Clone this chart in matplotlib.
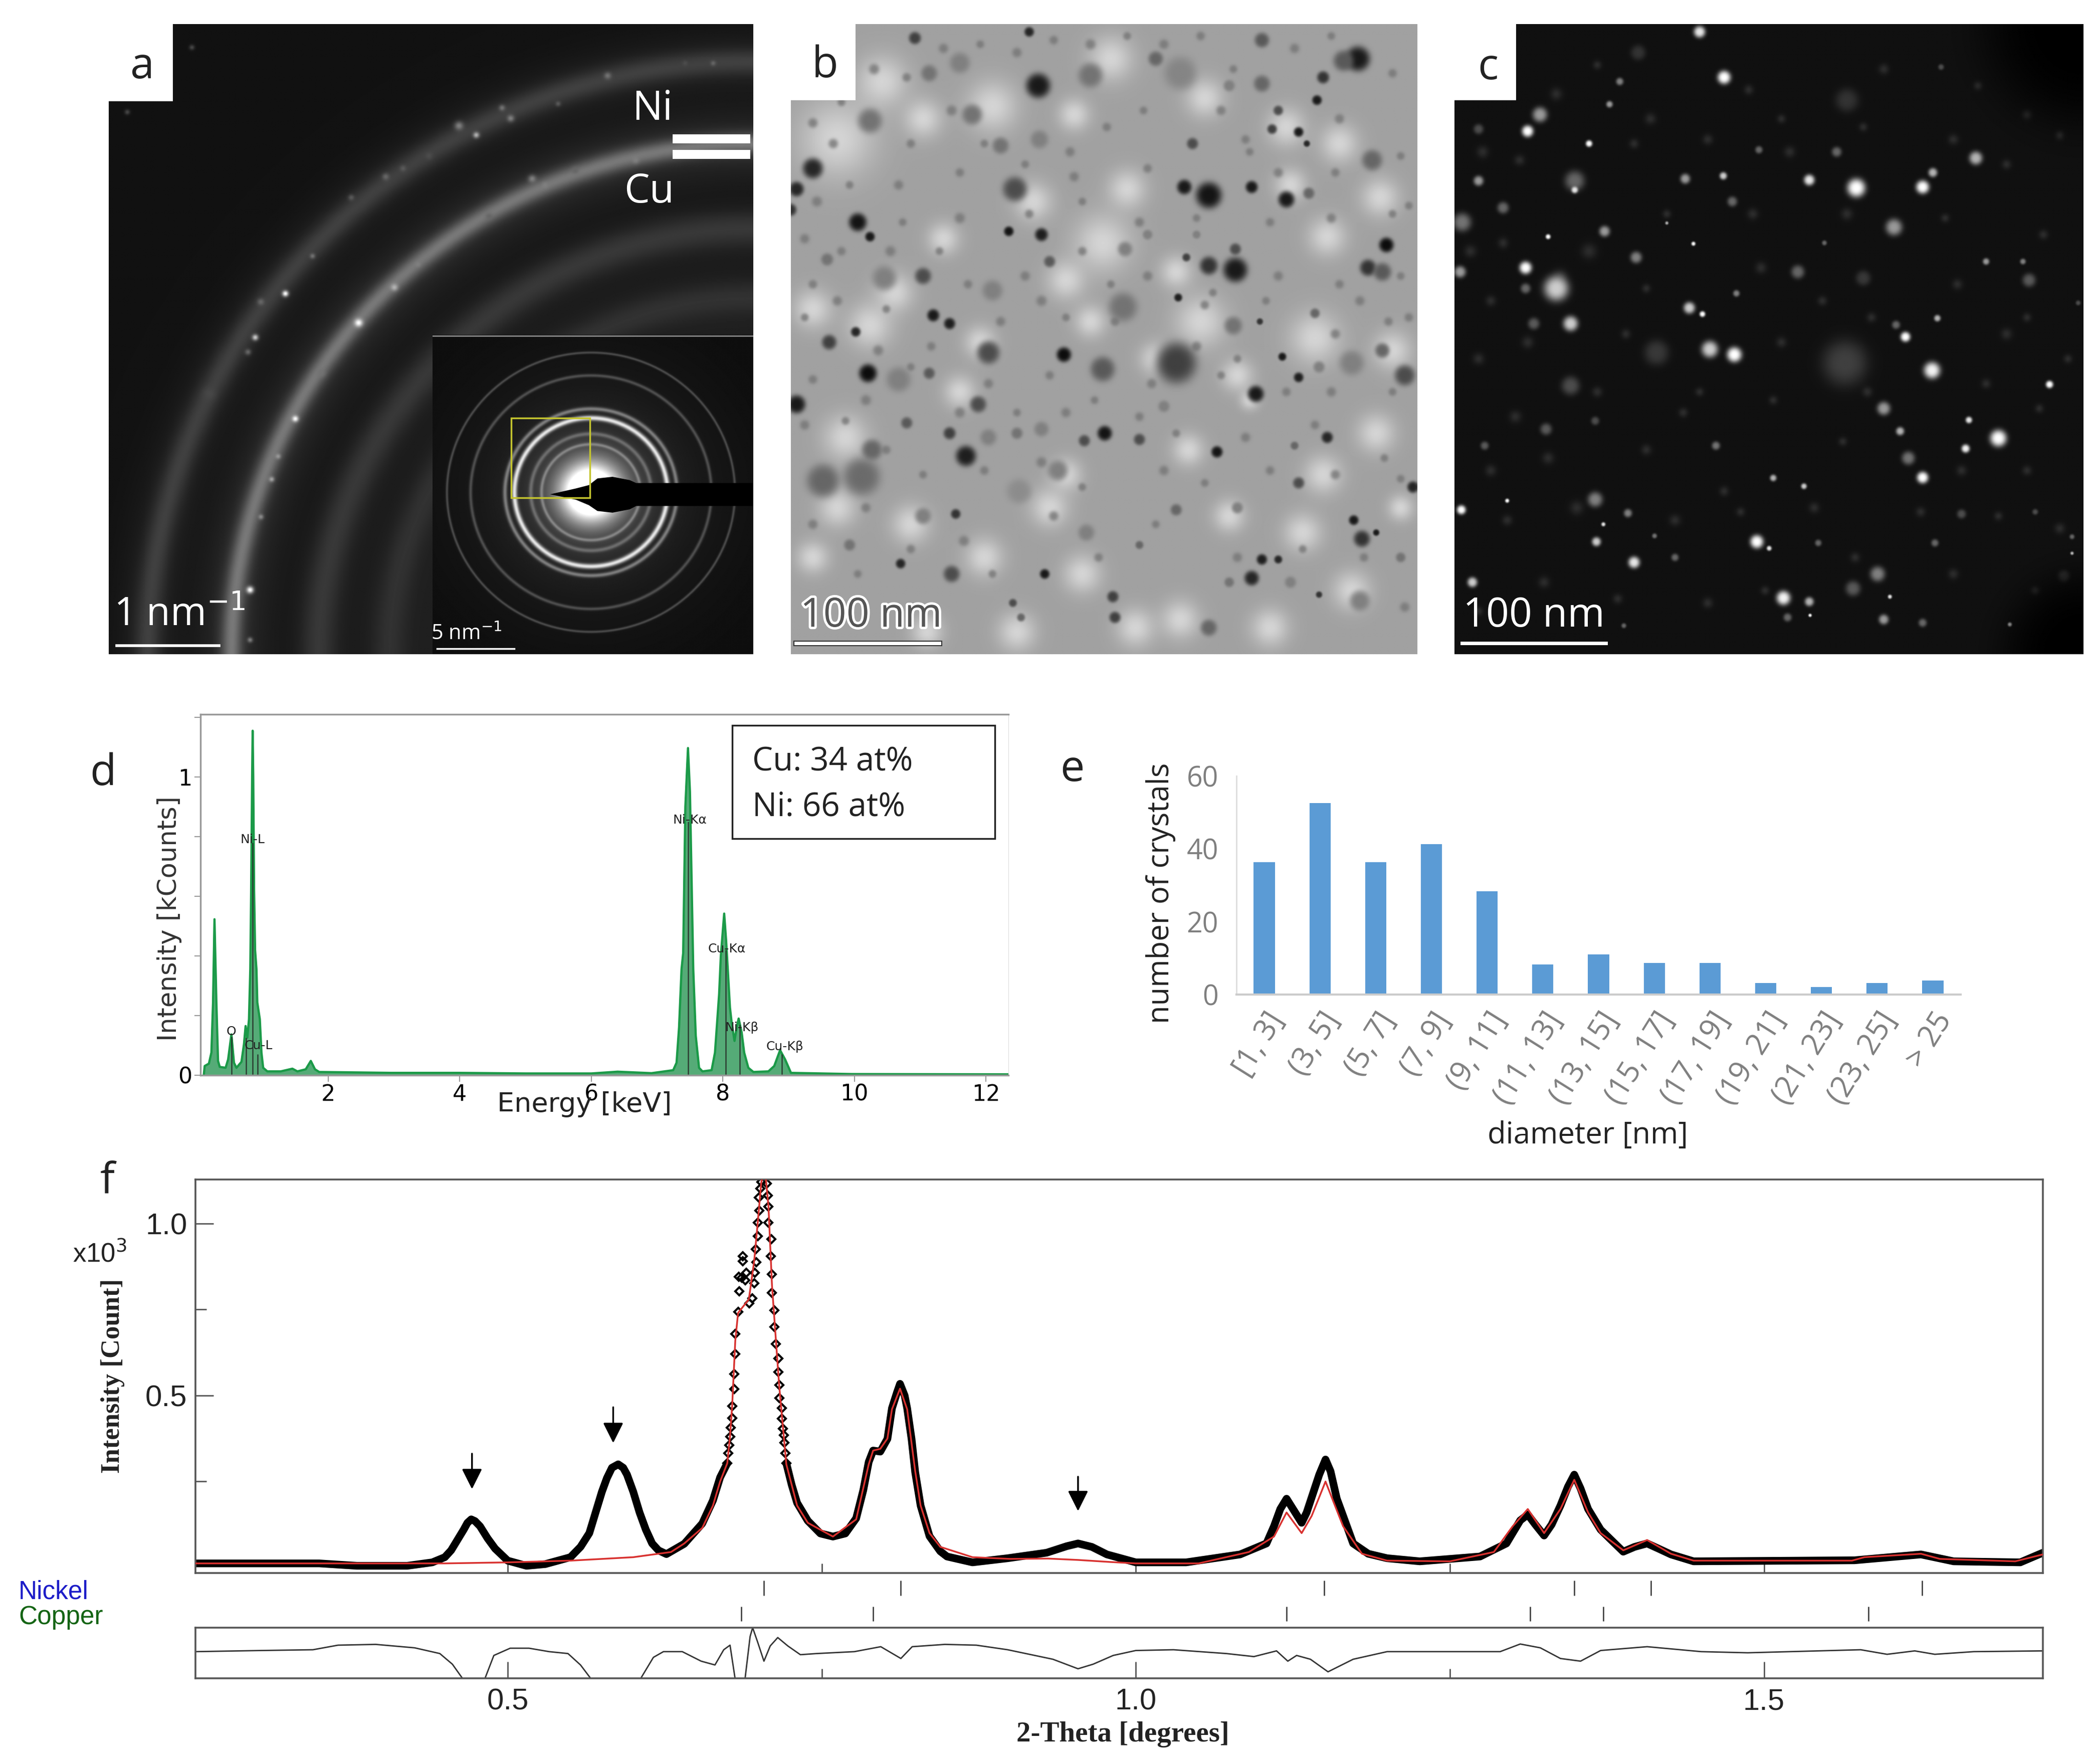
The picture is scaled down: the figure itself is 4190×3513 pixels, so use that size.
import numpy as np
import matplotlib
matplotlib.use('Agg')
import matplotlib.pyplot as plt
import matplotlib.patheffects as pe
from matplotlib.patches import Polygon, Rectangle

W, H = 4190, 3513

# ---- panel a: rings (radius, width in panel fractions, brightness), specks
ring_r = [0.94, 0.94, 0.81, 0.81, 0.675, 0.565]
ring_width = [0.020, 0.05, 0.016, 0.05, 0.028, 0.026]
ring_peak = [0.13, 0.05, 0.30, 0.09, 0.12, 0.08]
a_speck_x = [427, 357, 597, 450, 345, 870, 830, 950, 930, 1175, 1240, 1030, 1000, 680, 510, 410, 395, 370,
             490, 660, 700, 250, 1420, 1355, 735, 370, 340, 345, 210, 60, 580, 760, 1100, 900, 1060]
a_speck_y = [670, 775, 740, 970, 1380, 290, 268, 250, 225, 148, 350, 410, 395, 655, 860, 1060, 1115, 1205,
             580, 390, 370, 910, 118, 118, 600, 690, 810, 1500, 80, 235, 440, 340, 375, 485, 215]
a_speck_s = [7, 7, 9, 7, 8, 7, 10, 8, 7, 8, 8, 7, 9, 8, 10, 6, 6, 6, 6, 8, 7, 14, 6, 6, 6, 8, 7, 6, 6, 6, 7, 8, 8, 8, 6]
a_speck_g = [1, .8, 1, 1, 1, .7, .5, .5, .45, .45, .5, .5, .5, .7, .45, .6, .65, .55, .45, .4, .35, .28, .4, .3, .5, .4, .4, .5, .28, .28, .35, .3, .4, .4, .35]
inset_r = [335, 280, 200, 178, 140, 115]
inset_w = [3, 4, 5, 6, 5, 4]
inset_peak = [0.22, 0.22, 0.36, 0.75, 0.22, 0.24]
stop_x = [1040, 1100, 1130, 1150, 1185, 1225, 1240, 1512, 1512, 1240, 1225, 1185, 1150, 1130, 1100]
stop_y = [1150, 1136, 1128, 1112, 1108, 1116, 1123, 1123, 1178, 1178, 1186, 1194, 1190, 1176, 1163]

# ---- panel b: dark grains and light patches (x, y, radius in crop pixels, grey)
b_dark_x = [612, 1395, 1360, 590, 310, 1160, 900, 1160, 1310, 1295, 1200, 1250, 1185, 1270, 1430, 990, 520, 615, 450, 200,
            60, 20, 5, 555, 970, 1030, 1135, 1220, 1275, 170, 200, 540, 620, 1465, 1095, 1030, 1095, 975, 825, 1420,
            1455, 330, 235, 95, 640, 500, 355, 395, 820, 955, 1090, 100, 165, 490, 675, 950, 770, 195, 1210, 1250,
            1145, 1290, 1155, 1455, 1510, 20, 465, 290, 775, 725, 860, 435, 395, 205, 180, 85, 1320, 1050, 1530, 1250,
            410, 950, 1385, 1405, 1440, 275, 400, 628, 1160, 1200, 1135, 795, 800, 1400, 550, 570, 1030, 1300, 1080, 860,
            730, 1240, 660, 565, 330, 150, 1230, 1500, 1100, 920, 620, 560, 490, 345, 270, 1380, 1300, 1080, 960, 740,
            420, 345, 880, 1000]
b_dark_y = [160, 95, 100, 30, 45, 50, 95, 155, 140, 195, 220, 272, 265, 300, 340, 300, 305, 290, 230, 245,
            360, 410, 460, 410, 405, 425, 405, 435, 420, 490, 525, 512, 520, 545, 605, 595, 555, 575, 555, 600,
            610, 620, 625, 580, 585, 655, 715, 735, 695, 672, 740, 780, 755, 805, 810, 830, 845, 855, 815, 865,
            905, 710, 730, 800, 860, 930, 930, 975, 1000, 1018, 1015, 1055, 1000, 1040, 1105, 1115, 1010, 1045, 1130, 1120,
            1195, 1185, 1210, 1255, 1240, 1315, 1340, 1340, 1305, 1305, 1350, 1395, 1445, 1405, 1410, 1445, 1470, 1390, 1360, 1270,
            1240, 1030, 1090, 1140, 1200, 1270, 1360, 1300, 1180, 935, 990, 1000, 1010, 855, 870, 830, 840, 160, 130, 135,
            105, 130, 520, 520]
b_dark_r = [30, 30, 25, 12, 15, 18, 18, 20, 15, 12, 12, 12, 12, 8, 25, 14, 20, 22, 25, 30,
            25, 18, 15, 30, 18, 32, 15, 20, 14, 22, 12, 12, 16, 18, 30, 22, 14, 10, 18, 20,
            22, 20, 30, 15, 14, 25, 15, 14, 35, 10, 22, 18, 12, 28, 18, 50, 30, 22, 10, 12,
            20, 12, 8, 18, 25, 22, 20, 14, 18, 14, 14, 25, 15, 25, 45, 40, 14, 14, 14, 14,
            12, 14, 12, 20, 8, 12, 20, 12, 13, 10, 18, 14, 14, 25, 10, 10, 20, 8, 12, 10,
            20, 10, 25, 30, 20, 14, 14, 12, 14, 14, 18, 14, 20, 14, 30, 30, 14, 14, 40, 30,
            25, 20, 12, 10]
b_dark_g = [.1, .1, .35, .15, .25, .35, .4, .4, .2, .1, .3, .1, .25, .15, .4, .3, .45, .5, .45, .45,
            .15, .15, .2, .3, .1, .08, .1, .1, .4, .08, .1, .08, .12, .05, .1, .2, .3, .25, .5, .2,
            .35, .3, .5, .45, .35, .5, .1, .12, .45, .12, .45, .25, .15, .3, .05, .25, .35, .05, .1, .12,
            .1, .4, .2, .4, .3, .1, .3, .35, .08, .3, .3, .12, .25, .4, .42, .4, .15, .08, .15, .3,
            .2, .4, .1, .2, .1, .15, .3, .1, .12, .15, .15, .25, .25, .5, .3, .4, .4, .2, .45, .4,
            .5, .4, .5, .55, .5, .45, .5, .45, .5, .5, .5, .45, .5, .35, .5, .5, .5, .5, .52, .45,
            .5, .45, .5, .5]
b_light_x = [120, 230, 500, 790, 770, 680, 1320, 600, 380, 200, 1010, 830, 1290, 1100, 1130, 330, 1220, 1020, 60, 700,
             950, 1450, 1350, 1230, 900, 140, 480, 300, 640, 1080, 1480, 1310, 720, 260, 60, 1440, 560, 850, 1180, 420,
             980, 1380, 680, 120, 470, 1260, 960, 740, 340, 1500]
b_light_y = [290, 150, 210, 95, 540, 630, 525, 440, 530, 740, 730, 410, 770, 860, 920, 240, 260, 190, 700, 230,
             610, 430, 300, 400, 820, 1010, 1300, 1220, 1180, 1200, 800, 1100, 1340, 660, 1300, 1000, 1480, 1470, 1470, 900,
             1040, 1380, 1100, 1180, 780, 1240, 1450, 730, 1480, 1180]
b_light_r = [60, 40, 40, 35, 45, 30, 30, 30, 25, 35, 40, 30, 40, 25, 15, 30, 30, 30, 30, 25,
             25, 30, 30, 25, 25, 35, 30, 30, 30, 25, 30, 30, 30, 30, 25, 30, 30, 30, 30, 25,
             25, 30, 25, 30, 25, 30, 30, 25, 25, 20]
# small mid grey grains that give the mottled look
b_small_x = [60, 130, 210, 290, 380, 470, 560, 650, 740, 830, 920, 1010, 1090, 1240, 1330, 1480,
             40, 110, 300, 400, 480, 690, 780, 870, 1060, 1120, 1350, 1500,
             70, 150, 270, 420, 580, 700, 880, 1130, 1200, 1340, 1520,
             40, 130, 280, 420, 590, 720, 860, 1000, 1180, 1330, 1480,
             60, 250, 370, 580, 720, 1040, 1200, 1350, 1500,
             120, 240, 440, 620, 790, 880, 1020, 1170, 1400, 1520,
             40, 220, 350, 520, 680, 800, 1000, 1100, 1340, 1470,
             60, 190, 300, 490, 640, 750, 890, 1060, 1220, 1330, 1480,
             40, 140, 240, 420, 560, 680, 860, 950, 1120, 1290, 1460,
             80, 190, 330, 480, 620, 720, 920, 1020, 1180, 1340, 1500,
             60, 170, 300, 430, 500, 650, 760, 900, 1100, 1260, 1410, 1510]
b_small_y = [250, 200, 120, 140, 70, 60, 80, 50, 60, 40, 60, 40, 120, 70, 40, 130,
             150, 300, 300, 220, 300, 320, 260, 220, 220, 290, 240, 330,
             440, 400, 400, 370, 350, 380, 360, 320, 370, 370, 450,
             530, 560, 490, 480, 470, 440, 490, 480, 490, 480, 470,
             640, 560, 560, 620, 560, 660, 620, 640, 620,
             680, 700, 640, 680, 640, 620, 690, 680, 680, 720,
             720, 800, 790, 730, 720, 730, 790, 820, 760, 730,
             870, 920, 840, 880, 860, 920, 880, 860, 900, 900, 900,
             980, 970, 1040, 950, 950, 950, 960, 1000, 1010, 980, 1060,
             1120, 1180, 1100, 1090, 1070, 1130, 1090, 1120, 1090, 1100, 1110,
             1220, 1340, 1280, 1260, 1340, 1200, 1300, 1220, 1300, 1280, 1300, 1420]
b_small_r = [12, 10, 13, 11, 12, 10, 12, 11, 13, 10, 12, 11, 10, 12, 10, 11,
             10, 12, 11, 13, 10, 12, 11, 10, 12, 11, 12, 10,
             13, 10, 12, 11, 10, 12, 11, 10, 12, 11, 10,
             12, 11, 10, 13, 11, 10, 12, 10, 11, 12, 10,
             11, 13, 10, 12, 11, 10, 12, 11, 10,
             12, 10, 11, 13, 10, 12, 11, 10, 12, 11,
             10, 13, 11, 12, 10, 11, 12, 10, 12, 11,
             11, 13, 10, 12, 11, 10, 12, 10, 11, 12, 10,
             12, 10, 11, 13, 10, 12, 11, 10, 12, 11, 10,
             11, 12, 10, 11, 13, 10, 12, 10, 11, 12, 10,
             12, 10, 11, 13, 10, 12, 11, 10, 12, 10, 11, 12]

# ---- panel c: bright crystals (x, y, radius in crop pixels, grey)
c_x = [600, 660, 180, 330, 210, 565, 658, 868, 983, 1145, 1170, 1275, 935, 745, 60, 295, 295, 120, 20, 368,
       230, 585, 520, 1075, 680, 905, 175, 15, 250, 175, 445, 840, 575, 607, 285, 195, 690, 1181, 1103, 1080,
       685, 625, 495, 1168, 1455, 1300, 1390, 1405, 285, 225, 345, 1050, 1090, 1258, 1330, 1250, 1110, 1145, 780, 855,
       640, 75, 345, 130, 18, 425, 365, 348, 740, 770, 440, 45, 540, 805, 868, 975, 1035, 1065, 1050, 1145,
       1358, 870, 815, 1175, 1240, 1420, 890, 490, 415, 60, 450, 960, 1190, 405, 380, 1000, 1510, 1510, 1525, 1490, 955]
c_y = [30, 140, 270, 300, 230, 385, 378, 388, 407, 405, 370, 335, 320, 315, 390, 390, 412, 455, 490, 512,
       525, 542, 492, 502, 440, 540, 600, 610, 650, 650, 575, 610, 697, 712, 735, 735, 662, 722, 767, 738,
       810, 797, 805, 848, 882, 585, 585, 630, 885, 990, 970, 940, 995, 968, 1012, 1037, 1060, 1107, 1108, 1128,
       1030, 1030, 1160, 1163, 1185, 1193, 1220, 1262, 1262, 1278, 1312, 1360, 1300, 1398, 1407, 1375, 1340, 1395, 1450, 1458,
       1462, 1440, 1445, 1265, 1195, 1190, 1265, 1248, 1465, 265, 80, 195, 115, 150, 205, 625, 1290, 1250, 685, 1345, 830]
c_r = [14, 16, 14, 8, 18, 12, 9, 13, 22, 16, 11, 16, 12, 9, 12, 24, 8, 14, 22, 13,
       6, 5, 4, 20, 12, 6, 15, 14, 30, 12, 14, 16, 14, 7, 18, 14, 8, 8, 12, 10,
       18, 20, 30, 20, 9, 8, 7, 16, 22, 14, 10, 16, 10, 8, 20, 10, 16, 14, 8, 7,
       10, 10, 18, 5, 11, 10, 5, 11, 16, 6, 14, 12, 9, 17, 11, 18, 18, 5, 12, 10,
       5, 4, 10, 9, 11, 7, 8, 6, 6, 12, 18, 28, 7, 9, 8, 18, 4, 6, 6, 14, 55]
c_g = [.9, 1, 1, 1, .6, .6, .8, .9, 1, 1, .7, .7, .4, .4, .6, .4, .9, .4, .45, .6,
       1, 1, .7, .6, .4, .4, 1, .6, .8, .4, .5, .4, .8, 1, .8, .35, .5, .7, 1, .4,
       1, .8, .22, .95, 1, .6, .5, .35, .3, .35, .3, .6, .7, .9, 1, .95, .45, 1, .7, .8,
       .45, .35, .5, 1, 1, .5, .9, .8, 1, .9, .9, .8, .4, .95, .7, .35, .5, .9, .6, .4,
       .8, 1, .4, .4, .3, .3, .4, .45, .4, .3, .2, .2, .3, .5, .6, .22, .8, .4, .3, .2, .25]
# faint crystals
c_faint_x = [100, 250, 350, 480, 720, 800, 1050, 1280, 1400, 70, 160, 440, 620, 820, 1000, 1220, 1350, 1480,
             40, 120, 330, 520, 730, 960, 1200, 1440, 90, 260, 470, 750, 900, 1230, 1400, 60, 180, 420, 600,
             800, 1020, 1350, 1500, 150, 350, 560, 780, 1010, 1300, 1430, 90, 230, 470, 660, 950, 1240, 1400,
             130, 300, 540, 700, 880, 1140, 1330, 1480, 60, 220, 400, 620, 760, 980, 1220, 1420]
c_faint_y = [170, 180, 110, 240, 170, 240, 120, 160, 230, 320, 340, 300, 290, 320, 260, 290, 350, 280,
             560, 540, 560, 470, 470, 470, 480, 520, 680, 620, 650, 600, 680, 640, 720, 820, 780, 760, 900,
             780, 720, 760, 820, 960, 900, 950, 920, 900, 880, 940, 1090, 1060, 1040, 1140, 1020, 1090, 1090,
             1210, 1180, 1210, 1190, 1180, 1190, 1200, 1230, 1430, 1360, 1400, 1410, 1380, 1300, 1340, 1380]
c_faint_r = [12, 14, 10, 13, 11, 10, 12, 10, 11, 14, 12, 11, 12, 13, 10, 12, 11, 10,
             14, 12, 18, 10, 13, 14, 10, 11, 12, 16, 10, 13, 11, 12, 10, 13, 14, 11, 10,
             12, 11, 13, 10, 14, 12, 11, 10, 12, 11, 10, 13, 14, 12, 11, 10, 12, 11,
             12, 16, 13, 10, 12, 11, 10, 12, 10, 13, 11, 12, 10, 11, 12, 10]

# ---- panel d: EDS spectrum
eds_x = [.11, .124, .188, .226, .251, .273, .302, .327, .353, .442, .48, .53, .569, .607, .683, .721, .746, .772, .797, .817,
         .83, .845, .853, .862, .875, .89, .911, .924, .962, .987, 1.013, 1.076, 1.28, 1.457, 1.533, 1.66, 1.737, 1.80, 1.864, 2.955,
         4.0, 5.0, 6.0, 6.4, 6.915, 7.245, 7.296, 7.334, 7.372, 7.397, 7.43, 7.47, 7.50, 7.55, 7.588, 7.638, 7.69, 7.829, 7.88, 7.943,
         7.969, 8.02, 8.05, 8.108, 8.134, 8.177, 8.21, 8.24, 8.286, 8.324, 8.387, 8.464, 8.692, 8.781, 8.87, 8.946, 9.035, 9.96, 12.34]
eds_y = [0, .031, .039, .076, .244, .523, .244, .048, .028, .025, .053, .137, .042, .025, .045, .104, .165, .126, .188, .356,
         .62, 1.0, 1.155, 1.0, .62, .42, .356, .244, .188, .076, .025, .013, .013, .022, .013, .02, .048, .02, .011, .008,
         .008, .006, .006, .012, .007, .017, .042, .16, .356, .41, .9, 1.097, .95, .356, .132, .025, .013, .017, .076, .272,
         .40, .542, .45, .227, .176, .115, .16, .19, .143, .076, .025, .011, .013, .031, .084, .053, .008, .004, .003]
line_x = [.53, .75, .85, .93, 7.47, 8.04, 8.26, 8.9]
line_h = [.13, .126, .78, .07, .85, .42, .17, .07]
eds_labels = ['O', 'Cu-L', 'Ni-L', 'Ni-Kα', 'Cu-Kα', 'Ni-Kβ', 'Cu-Kβ']
eds_label_x = [.53, .94, .853, 7.50, 8.06, 8.29, 8.94]
eds_label_y = [.147, .099, .79, .855, .423, .16, .095]

# ---- panel e: size histogram
bins = ['[1, 3]', '(3, 5]', '(5, 7]', '(7, 9]', '(9, 11]', '(11, 13]', '(13, 15]', '(15, 17]', '(17, 19]',
        '(19, 21]', '(21, 23]', '(23, 25]', '> 25']
crystals = [36.3, 52.5, 36.3, 41.3, 28.4, 8.2, 11, 8.7, 8.7, 3.2, 2, 3.2, 3.8]

# ---- panel f: diffraction profile
obs_left_x = [.2515, .30, .35, .38, .42, .44, .45, .455, .46, .465, .468, .471, .474, .478, .484, .49, .50, .515, .53, .55,
              .558, .565, .57, .575, .579, .583, .588, .592, .595, .60, .605, .61, .615, .62, .6264, .6406, .6549, .6634, .6691, .6748]
obs_left_y = [.012, .012, .012, .005, .005, .015, .03, .05, .08, .11, .13, .14, .135, .12, .085, .055, .02, .005, .01, .03,
              .06, .10, .16, .22, .26, .29, .30, .29, .27, .22, .16, .11, .07, .05, .039, .069, .128, .195, .262, .303]
obs_right_x = [.7218, .7261, .7304, .7389, .7489, .7589, .7688, .7774, .7831, .7874, .7909, .7966, .8023, .8059, .81, .8123, .816, .818, .8215, .8244,
               .8287, .8358, .8444, .8497, .87, .898, .929, .945, .954, .965, .977, 1.0, 1.04, 1.083, 1.104, 1.11, 1.115, 1.12, 1.126, 1.132,
               1.136, 1.141, 1.146, 1.151, 1.155, 1.16, 1.173, 1.185, 1.2, 1.226, 1.274, 1.295, 1.306, 1.312, 1.318, 1.325, 1.331, 1.338, 1.344, 1.349,
               1.354, 1.36, 1.37, 1.388, 1.397, 1.407, 1.416, 1.426, 1.444, 1.572, 1.6, 1.625, 1.651, 1.704, 1.722]
obs_right_y = [.303, .24, .188, .136, .099, .09, .099, .143, .225, .307, .34, .337, .374, .463, .51, .534, .50, .463, .374, .277,
               .18, .091, .047, .032, .015, .027, .043, .062, .07, .06, .038, .015, .015, .038, .07, .12, .17, .20, .165, .13,
               .16, .215, .27, .314, .28, .20, .07, .04, .027, .018, .032, .07, .137, .154, .125, .093, .125, .18, .235, .27,
               .23, .17, .11, .046, .06, .07, .055, .038, .018, .021, .03, .038, .018, .015, .043]
peak_x = [.6748, .6755, .6763, .677, .6777, .6787, .6787, .6805, .6805, .6812, .6812, .6834, .6845, .6841, .687, .687, .6862, .689, .6898, .6948,
          .6922, .6962, .6969, .698, .6976, .699, .699, .7005, .6998, .7012, .7019, .7062, .7069, .7076, .7076, .7097, .7093, .7104, .7104, .7123,
          .7123, .7136, .7154, .7154, .7161, .7161, .7183, .7183, .719, .7197, .7204, .7211, .7218]
peak_y = [.303, .333, .355, .381, .407, .435, .47, .519, .562, .621, .679, .743, .803, .846, .89, .905, .842, .835, .857, .783,
          .768, .827, .857, .887, .925, .963, 1.002, 1.037, 1.076, 1.102, 1.12, 1.117, 1.082, 1.049, 1.002, .954, .905, .853, .798, .748,
          .699, .65, .608, .569, .53, .493, .464, .433, .403, .385, .363, .333, .303]
calc_x = [.2515, .45, .5, .55, .6, .63, .6406, .6549, .6634, .6691, .6748, .677, .6787, .6812, .6834, .692, .6962, .699, .7019, .7047,
          .7076, .7104, .7161, .7218, .7304, .7389, .7589, .7774, .7874, .7909, .7966, .8023, .8059, .8123, .818, .8244, .8287, .8358, .8444, .87,
          .9, .93, .954, .98, 1.0, 1.05, 1.09, 1.11, 1.12, 1.132, 1.14, 1.151, 1.165, 1.18, 1.2, 1.25, 1.285, 1.3, 1.312, 1.325,
          1.338, 1.349, 1.36, 1.37, 1.388, 1.407, 1.426, 1.444, 1.57, 1.58, 1.625, 1.64, 1.7, 1.722]
calc_y = [.012, .012, .015, .02, .03, .045, .07, .115, .18, .25, .303, .381, .47, .66, .74, .78, .89, 1.0, 1.12, 1.16,
          1.05, .82, .53, .30, .18, .13, .09, .14, .30, .34, .345, .375, .46, .52, .46, .28, .18, .10, .06, .03,
          .025, .026, .022, .016, .012, .012, .045, .09, .16, .10, .15, .25, .12, .04, .02, .018, .045, .12, .17, .10,
          .17, .255, .16, .10, .05, .08, .04, .02, .02, .03, .04, .025, .018, .038]
diff_x = [.2515, .304, .345, .365, .395, .426, .446, .456, .464, .47, .482, .489, .502, .517, .533, .548, .558, .566, .585, .606,
          .616, .624, .639, .654, .665, .672, .677, .681, .684, .689, .693, .695, .699, .704, .709, .715, .723, .733, .746, .776,
          .797, .813, .822, .848, .873, .898, .934, .954, .966, .982, 1.0, 1.03, 1.072, 1.094, 1.112, 1.121, 1.128, 1.139, 1.153, 1.173,
          1.2, 1.242, 1.29, 1.306, 1.322, 1.338, 1.354, 1.37, 1.407, 1.45, 1.487, 1.577, 1.598, 1.62, 1.636, 1.667, 1.722]
diff_y = [0, 3, 5, 17, 19, 10, -5, -33, -70, -90, -70, -10, 9, 9, 0, -5, -35, -70, -130, -70,
          -15, 0, 0, -25, -35, 5, 17, -70, -110, -70, 40, 63, 25, -25, 15, 37, 15, -8, -5, 0,
          13, -18, 13, 19, 17, 5, -20, -45, -33, -10, 3, 5, -5, -13, 2, -25, -10, -20, -53, -20,
          0, 0, 0, 20, 10, -18, -25, 3, 13, 0, -3, 5, -7, 2, -7, 0, 2]
nickel_pos = [.704, .813, 1.150, 1.349, 1.41, 1.626]
copper_pos = [.686, .791, 1.12, 1.314, 1.372, 1.583]
arrow_x = [.4716, .584, .954]
arrow_top = [.331, .466, .264]
arrow_tip = [.228, .362, .164]

OPEN = ['Open Sans', 'DejaVu Sans']
ARIAL = ['Liberation Sans', 'DejaVu Sans']
SERIF = ['Liberation Serif', 'DejaVu Serif']

fig = plt.figure(figsize=(W / 100, H / 100), dpi=100, facecolor='white')


def add_axes_px(left, top, right, bottom):
    return fig.add_axes([left / W, 1 - bottom / H, (right - left) / W, (bottom - top) / H])


def put(x, y, s, **kw):
    kw.setdefault('ha', 'center')
    kw.setdefault('va', 'center')
    return fig.text(x / W, 1 - y / H, s, **kw)


def stamp(img, X, Y, xs, ys, rs, greys, power=4, mix=1.0):
    # paint soft grains on a grey image
    for x, y, r, g in zip(xs, ys, rs, greys):
        m = mix * np.exp(-(((X - x) ** 2 + (Y - y) ** 2) / r ** 2) ** (power / 2))
        img[:] = img * (1 - m) + g * m


def grid(x0, x1, y0, y1, n=700):
    return np.meshgrid(np.linspace(x0, x1, n), np.linspace(y0, y1, n))


def show(ax, img, extent):
    ax.imshow(img, cmap='gray', vmin=0, vmax=1, extent=extent, aspect='auto', interpolation='bilinear')
    ax.axis('off')


def label_box(right, bottom, left, letter, x, y):
    fig.add_artist(Rectangle((left / W, 1 - bottom / H), (right - left) / W, (bottom - 48) / H,
                             transform=fig.transFigure, facecolor='white', edgecolor='none', zorder=5))
    put(x, y, letter, fontsize=62, family=OPEN, color='#222222', zorder=6)


def scale_text(x, y, s, color='white', stroke=None, size=56):
    t = put(x, y, s, fontsize=size, family=OPEN, color=color, zorder=6)
    if stroke:
        t.set_path_effects([pe.withStroke(linewidth=7, foreground=stroke)])


# ---------- a
ax = add_axes_px(217, 48, 1503, 1305)
X, Y = grid(0, 1, 0, 1)
R = np.hypot(1 - X, 1 - Y)
img = 0.07 + 0.07 * np.exp(-(R / 0.7) ** 4)
for r, w, p in zip(ring_r, ring_width, ring_peak):
    img += p * np.exp(-((R - r) / w) ** 2)
stamp(img, X, Y, [(x - 18) / 1494 for x in a_speck_x], [(y - 24) / 1509 for y in a_speck_y],
      [s / 1494 for s in a_speck_s], a_speck_g, power=2)
show(ax, img, (0, 1, 1, 0))
ax.add_patch(Rectangle((.875, .175), .12, .014, facecolor='white', edgecolor='none', zorder=5))
ax.add_patch(Rectangle((.875, .2), .12, .014, facecolor='white', edgecolor='none', zorder=5))
put(1302, 218, 'Ni', fontsize=58, family=OPEN, color='white')
put(1295, 383, 'Cu', fontsize=58, family=OPEN, color='white')
fig.add_artist(plt.Line2D([233 / W, 437 / W], [1 - 1288 / H, 1 - 1288 / H], color='white', lw=4))
scale_text(358, 1228, '1 nm$^{-1}$', size=56)
label_box(345, 202, 217, 'a', 284, 134)

# inset of panel a
ins = add_axes_px(863, 668, 1503, 1305)
X, Y = grid(767, 1512, 768, 1533)
R = np.hypot(X - 1135, Y - 1145)
img = 0.05 + 0.09 * np.exp(-(R / 300) ** 2) + 0.25 * np.exp(-(R / 130) ** 2) + 1.4 * np.exp(-(R / 62) ** 2)
for r, w, p in zip(inset_r, inset_w, inset_peak):
    img += p * np.exp(-((R - r) / w) ** 2)
show(ins, img, (767, 1512, 1533, 768))
ins.add_patch(Polygon(list(zip(stop_x, stop_y)), facecolor='black', edgecolor='none', zorder=5))
ins.add_patch(Rectangle((950, 967), 182, 191, fill=False, edgecolor='#c4c42e', lw=2.5, zorder=6))
ins.plot([777, 957], [1520, 1520], color='white', lw=2.5, zorder=6)
ins.text(846, 1485, '5 nm$^{-1}$', fontsize=30, family=OPEN, color='white', ha='center', va='center', zorder=6)
ins.plot([767, 1512], [770, 770], color='#888888', lw=2, zorder=6)

# ---------- b
ax = add_axes_px(1578, 48, 2828, 1305)
X, Y = grid(7, 1540, 12, 1533, n=900)
img = np.full(X.shape, 0.63)
stamp(img, X, Y, b_light_x, b_light_y, [r * 1.5 for r in b_light_r], [.9] * len(b_light_r), power=2, mix=0.75)
stamp(img, X, Y, b_small_x, b_small_y, b_small_r, [.46] * len(b_small_r), power=3, mix=0.8)
stamp(img, X, Y, b_dark_x, b_dark_y, b_dark_r, b_dark_g, power=4)
show(ax, img, (7, 1540, 1533, 12))
fig.add_artist(plt.Line2D([1588 / W, 1874 / W], [1 - 1283 / H, 1 - 1283 / H], color='white', lw=5,
                          path_effects=[pe.withStroke(linewidth=8, foreground='#333333')]))
scale_text(1738, 1229, '100 nm', color='#555555', stroke='white', size=58)
label_box(1707, 200, 1578, 'b', 1646, 132)

# ---------- c
ax = add_axes_px(2902, 48, 4157, 1305)
X, Y = grid(2, 1537, 12, 1533, n=900)
img = np.full(X.shape, 0.065)
stamp(img, X, Y, c_faint_x, c_faint_y, c_faint_r, [.2] * len(c_faint_r), power=2, mix=0.8)
stamp(img, X, Y, c_x, c_y, c_r, c_g, power=3)
stamp(img, X, Y, [1537, 1537], [12, 1533], [240, 190], [0, 0], power=4)
show(ax, img, (2, 1537, 1533, 12))
fig.add_artist(plt.Line2D([2917 / W, 3204 / W], [1 - 1283 / H, 1 - 1283 / H], color='white', lw=5))
scale_text(3060, 1229, '100 nm', size=58)
label_box(3025, 200, 2902, 'c', 2969, 136)

# ---------- d
ax = add_axes_px(400, 1425, 2012, 2145)
ax.set_xlim(0.06, 12.34)
ax.set_ylim(0, 1.21)
ax.fill_between(eds_x, eds_y, color='#55ab77', lw=0)
ax.plot(eds_x, eds_y, color='#1b9a48', lw=3.2)
ax.vlines(line_x, 0, line_h, color='#222222', lw=1.8, alpha=0.8)
for s, x, y in zip(eds_labels, eds_label_x, eds_label_y):
    ax.text(x, y, s, fontsize=18, ha='center', va='center', color='#222222')
for side in ['top', 'left', 'bottom']:
    ax.spines[side].set_color('#999999')
    ax.spines[side].set_linewidth(2.5)
ax.spines['right'].set_color('#dddddd')
ax.set_xticks([2, 4, 6, 8, 10, 12])
ax.set_yticks([0, 1])
ax.set_yticks([.2, .4, .6, .8, 1.2], minor=True)
ax.tick_params(axis='both', which='both', length=9, width=1.5, color='#999999', labelsize=32, pad=3)
put(1166, 2203, 'Energy [keV]', fontsize=39, color='#222222')
put(338, 1833, 'Intensity [kCounts]', fontsize=37, rotation=90, color='#333333')
fig.add_artist(Rectangle((1461 / W, 1 - 1673 / H), 524 / W, 226 / H, transform=fig.transFigure,
                         facecolor='white', edgecolor='#222222', lw=2.5))
put(1501, 1520, 'Cu: 34 at%', fontsize=47, family=OPEN, ha='left', color='#222222')
put(1501, 1610, 'Ni: 66 at%', fontsize=47, family=OPEN, ha='left', color='#222222')
put(206, 1544, 'd', fontsize=62, family=OPEN, color='#222222')

# ---------- e
ax = add_axes_px(2467, 1548, 3912, 1984)
ax.bar(range(len(bins)), crystals, width=0.38, color='#5b9bd5')
ax.set_xlim(-0.5, 12.5)
ax.set_ylim(0, 60)
for side in ['top', 'right']:
    ax.spines[side].set_visible(False)
ax.spines['left'].set_color('#dddddd')
ax.spines['bottom'].set_color('#cccccc')
ax.spines['left'].set_linewidth(2)
ax.spines['bottom'].set_linewidth(3)
ax.set_yticks([0, 20, 40, 60])
ax.set_xticks(range(len(bins)))
ax.set_xticklabels(bins, rotation=58, ha='right', rotation_mode='anchor', family=OPEN, fontsize=43, color='#7f7f7f')
ax.tick_params(axis='x', length=0, pad=18)
ax.tick_params(axis='y', length=0, pad=26, labelsize=40, labelcolor='#7f7f7f')
for t in ax.get_yticklabels():
    t.set_family(OPEN)
put(2316, 1782, 'number of crystals', fontsize=43, family=OPEN, rotation=90, color='#222222')
put(3168, 2265, 'diameter [nm]', fontsize=43, family=OPEN, color='#222222')
put(2139, 1536, 'e', fontsize=62, family=OPEN, color='#222222')

# ---------- f
ax = add_axes_px(390, 2353, 4076, 3138)
ax.plot(obs_left_x, obs_left_y, color='black', lw=11, solid_capstyle='round', solid_joinstyle='round', zorder=2)
ax.plot(obs_right_x, obs_right_y, color='black', lw=11, solid_capstyle='round', solid_joinstyle='round', zorder=2)
ax.plot(peak_x, peak_y, ls='none', marker='D', ms=8.5, mfc='none', mec='black', mew=3, zorder=2)
ax.plot(calc_x, calc_y, color='#d8312f', lw=2.5, zorder=3)
for x, top, tip in zip(arrow_x, arrow_top, arrow_tip):
    ax.annotate('', xy=(x, tip), xytext=(x, top),
                arrowprops=dict(arrowstyle='-|>,head_length=1,head_width=0.5', mutation_scale=25,
                                shrinkA=0, shrinkB=0, color='black', lw=2.5))
ax.set_xlim(.2515, 1.722)
ax.set_ylim(-.016, 1.128)
ax.set_xticks([.5, 1.0, 1.5])
ax.set_xticks([.75, 1.25], minor=True)
ax.set_xticklabels([])
ax.set_yticks([.5, 1.0])
ax.set_yticklabels(['0.5', '1.0'], family=ARIAL, fontsize=43, color='#222222')
ax.set_yticks([.25, .75], minor=True)
ax.tick_params(axis='y', which='major', direction='in', length=26, width=2, color='#555555', pad=12)
ax.tick_params(axis='y', which='minor', direction='in', length=16, width=2, color='#555555')
ax.tick_params(axis='x', which='both', direction='in', length=14, width=2, color='#555555')
for s in ax.spines.values():
    s.set_color('#555555')
    s.set_linewidth(2.6)

# reflection marks
rows = add_axes_px(390, 3138, 4076, 3247)
rows.set_xlim(.2515, 1.722)
rows.set_ylim(109, 0)
rows.axis('off')
rows.vlines(nickel_pos, 15, 45, color='#333333', lw=1.8)
rows.vlines(copper_pos, 67, 96, color='#333333', lw=1.8)
put(37, 3176, 'Nickel', fontsize=37, family=ARIAL, ha='left', color='#1c1cc8')
put(37, 3226, 'Copper', fontsize=37, family=ARIAL, ha='left', color='#146414')

# difference curve
ax = add_axes_px(390, 3247, 4076, 3348)
ax.plot(diff_x, diff_y, color='#333333', lw=2)
ax.set_xlim(.2515, 1.722)
ax.set_ylim(-70, 63)
ax.set_yticks([])
ax.set_xticks([.5, 1.0, 1.5])
ax.set_xticklabels(['0.5', '1.0', '1.5'], family=ARIAL, fontsize=43, color='#222222')
ax.set_xticks([.75, 1.25], minor=True)
ax.tick_params(axis='x', which='major', direction='in', length=24, width=2, color='#555555', pad=14)
ax.tick_params(axis='x', which='minor', direction='in', length=14, width=2, color='#555555')
for s in ax.spines.values():
    s.set_color('#555555')
    s.set_linewidth(2.6)

put(2240, 3460, '2-Theta [degrees]', fontsize=41, family=SERIF, weight='bold', color='#222222')
put(225, 2745, 'Intensity [Count]', fontsize=38, family=SERIF, weight='bold', rotation=90, color='#222222')
put(199, 2502, 'x10$^3$', fontsize=38, family=ARIAL, color='#222222')
put(214, 2358, 'f', fontsize=62, family=OPEN, color='#222222')

fig.savefig('out.png', dpi=100, facecolor='white')
